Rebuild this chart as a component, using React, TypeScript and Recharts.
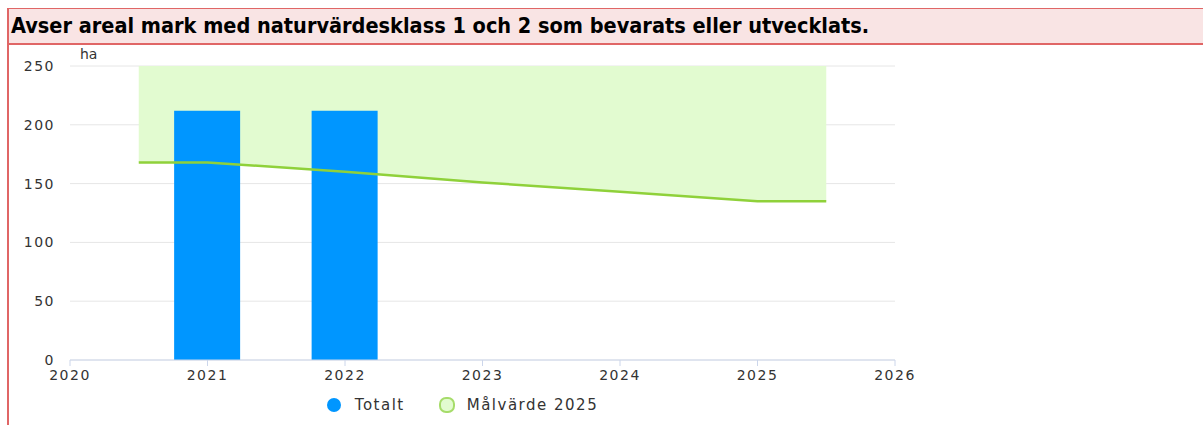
import React from 'react';
import { ComposedChart, Bar, Area, Line, XAxis, YAxis, CartesianGrid, Legend } from 'recharts';

// x positions (years); the target band runs from mid 2020 to mid 2025
const years = [2020.5, 2021, 2022, 2023, 2024, 2025, 2025.5];
const totalt = [null, 212, 212, null, null, null, null];
const malvardeLow = [168, 168, 160, 151, 143, 135, 135];
const malvardeHigh = [250, 250, 250, 250, 250, 250, 250];
const xTicks = [2020, 2021, 2022, 2023, 2024, 2025, 2026];
const yTicks = [0, 50, 100, 150, 200, 250];

const data = years.map((year, i) => ({
    year,
    totalt: totalt[i],
    band: [malvardeLow[i], malvardeHigh[i]],
    low: malvardeLow[i],
}));

const tickFont = { fontFamily: 'DejaVu Sans', fontSize: 14, letterSpacing: 1.5, fill: '#333333' };

const LegendContent = () => (
    <div style={{ display: 'flex', justifyContent: 'center', alignItems: 'center', height: 30, fontFamily: 'DejaVu Sans', fontSize: 15, letterSpacing: 1.5, color: '#333333', paddingLeft: 30 }}>
        <span style={{ display: 'inline-block', width: 14, height: 14, borderRadius: 7, background: '#0096ff', marginRight: 14 }} />
        <span style={{ marginRight: 34 }}>Totalt</span>
        <span style={{ display: 'inline-block', width: 12, height: 12, borderRadius: 7, background: '#e2fbd0', border: '2px solid #a6dc6a', marginRight: 12 }} />
        <span>Målvärde 2025</span>
    </div>
);

const App = () => {
    return (
        <div style={{ position: 'absolute', left: 0, top: 0, width: 1203, height: 425, background: '#fff' }}>
            <div style={{ position: 'absolute', left: 7, top: 8, width: 2, height: 417, background: '#e06666' }} />
            <div
                style={{
                    position: 'absolute',
                    left: 7,
                    top: 8,
                    width: 1196,
                    height: 37,
                    background: '#f9e4e4',
                    borderTop: '1px solid #e06666',
                    borderBottom: '2px solid #e06666',
                    borderLeft: '2px solid #e06666',
                    boxSizing: 'border-box',
                }}
            >
                <div style={{ position: 'absolute', left: 2, top: 4, fontFamily: "'Liberation Sans Narrow', 'DejaVu Sans Condensed', sans-serif", fontWeight: 'bold', fontSize: 21.5, color: '#000', whiteSpace: 'nowrap' }}>
                    Avser areal mark med naturvärdesklass 1 och 2 som bevarats eller utvecklats.
                </div>
            </div>
            <div style={{ position: 'absolute', left: 80, top: 46, fontFamily: 'DejaVu Sans', fontSize: 14, color: '#333' }}>ha</div>
            <div style={{ position: 'absolute', left: 0, top: 46 }}>
                <ComposedChart width={930} height={379} data={data} margin={{ top: 20, right: 35, left: 0, bottom: 5 }}>
                    <CartesianGrid vertical={false} stroke="#e6e6e6" />
                    <XAxis
                        dataKey="year"
                        type="number"
                        domain={[2020, 2026]}
                        ticks={xTicks}
                        allowDataOverflow
                        height={30}
                        stroke="#ccd6eb"
                        tickSize={6}
                        tickMargin={4}
                        tick={tickFont}
                    />
                    <YAxis
                        domain={[0, 250]}
                        ticks={yTicks}
                        width={70}
                        axisLine={false}
                        tickLine={false}
                        tickSize={0}
                        tickMargin={15}
                        tick={tickFont}
                    />
                    <Area dataKey="band" fill="#e2fbd0" fillOpacity={1} stroke="none" isAnimationActive={false} />
                    <Line dataKey="low" stroke="#8fd13a" strokeWidth={2.5} dot={false} isAnimationActive={false} />
                    <Bar dataKey="totalt" fill="#0096ff" barSize={66} isAnimationActive={false} />
                    <Legend verticalAlign="bottom" height={30} content={<LegendContent />} />
                </ComposedChart>
            </div>
        </div>
    );
};

export default App;
